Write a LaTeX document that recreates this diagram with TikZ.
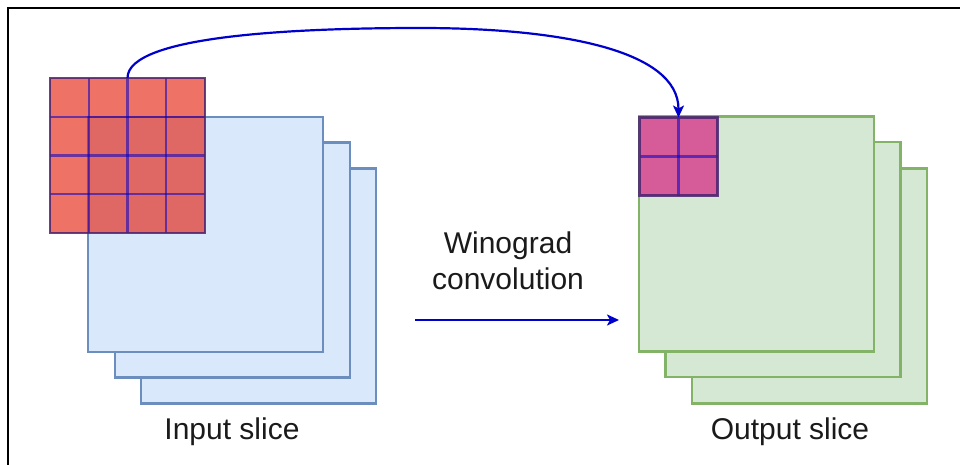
\documentclass[tikz,border=0pt]{standalone}
\usepackage{fontspec}
\setmainfont{Liberation Sans}
\usetikzlibrary{arrows.meta,calc}
\definecolor{inFill}{HTML}{DAE8FC}
\definecolor{inLine}{HTML}{6C8EBF}
\definecolor{outFill}{HTML}{D5E8D4}
\definecolor{outLine}{HTML}{82B366}
\definecolor{redFill}{HTML}{E51400}
\definecolor{magFill}{HTML}{D80073}
\definecolor{edgeBlue}{HTML}{0000CC}
\definecolor{borderCol}{HTML}{4A2470}
\definecolor{txt}{HTML}{1A1A1A}
\tikzset{
  slicein/.style={draw=inLine, fill=inFill, line width=2.2pt, rectangle, minimum width=235pt, minimum height=235pt, inner sep=0pt, outer sep=0pt},
  sliceout/.style={draw=outLine, fill=outFill, line width=2.2pt, rectangle, minimum width=235pt, minimum height=235pt, inner sep=0pt, outer sep=0pt},
  gridred/.style={fill=redFill, fill opacity=0.6, draw=none, rectangle, minimum width=155pt, minimum height=155pt, inner sep=0pt, outer sep=0pt},
  gridmag/.style={fill=magFill, fill opacity=0.6, draw=none, rectangle, minimum width=78pt, minimum height=78pt, inner sep=0pt, outer sep=0pt},
  gridline/.style={draw=edgeBlue, draw opacity=0.55, line width=2.2pt},
  gridborder/.style={draw=borderCol, draw opacity=0.85, line width=2.4pt},
  flow/.style={draw=edgeBlue, line width=2.2pt, -{Stealth[length=12pt,width=11pt,inset=3pt]}},
  lbl/.style={font=\fontsize{30}{36}\selectfont, text=txt, align=center, inner sep=0pt},
}
\begin{document}
\begin{tikzpicture}[x=1pt,y=-1pt]
\useasboundingbox (0,0) rectangle (960,465);
% frame (top and left edges visible)
\draw[line width=2.5pt, black] (8,465) -- (8,8) -- (960,8);
% input slices
\node[slicein] (in3) at (258.5,286) {};
\node[slicein] (in2) at (232.5,260) {};
\node[slicein] (in1) at (205.5,234.5) {};
% output slices
\node[sliceout] (out3) at (809.5,286) {};
\node[sliceout] (out2) at (783,259.5) {};
\node[sliceout] (out1) at (756.5,234) {};
% red 4x4 grid
\node[gridred] (ga) at (127.5,155.5) {};
\foreach \i in {1,2,3} {
  \draw[gridline] ($(ga.north west)+(\i*38.75,0)$) -- ($(ga.south west)+(\i*38.75,0)$);
  \draw[gridline] ($(ga.north west)+(0,\i*38.75)$) -- ($(ga.north east)+(0,\i*38.75)$);
}
\draw[gridborder] (ga.north west) rectangle (ga.south east);
% magenta 2x2 grid
\node[gridmag] (gb) at (678.5,156.5) {};
\draw[gridline] (gb.north) -- (gb.south);
\draw[gridline] (gb.west) -- (gb.east);
\draw[gridborder] (gb.north west) rectangle (gb.south east);
% curved arrow
\coordinate (top) at (420,28);
\draw[flow] (ga.north) .. controls (127.5,35) and (300,28) .. (top) .. controls (560,28) and (678.5,50) .. (gb.north);
% straight arrow
\coordinate (s) at (415,320);
\coordinate (e) at (619,320);
\draw[flow] (s) -- (e);
% labels
\node[lbl] (wl) at (508,261) {Winograd\\convolution};
\node[lbl] (il) at (232,432) {Input slice};
\node[lbl] (ol) at (790,432) {Output slice};
\end{tikzpicture}
\end{document}
